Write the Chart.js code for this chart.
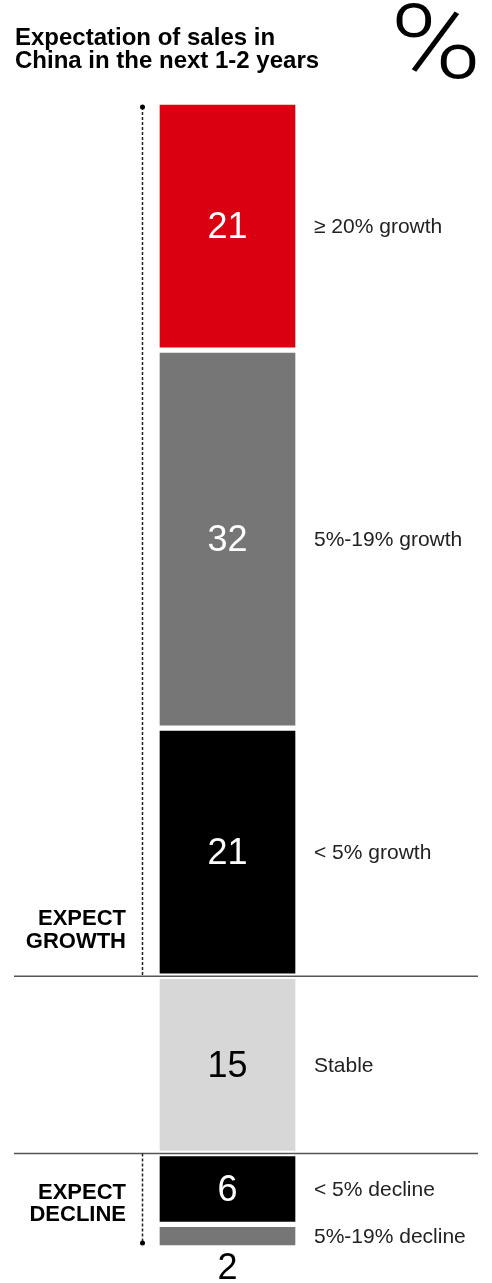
<!DOCTYPE html>
<html>
<head>
<meta charset="utf-8">
<title>Expectation of sales in China</title>
<script src="https://cdn.jsdelivr.net/npm/chart.js@4.4.0/dist/chart.umd.min.js"></script>
<style>
  html, body { margin: 0; padding: 0; background: #fff; }
  #wrap { position: relative; width: 492px; height: 1283px; overflow: hidden; }
  #title { position: absolute; left: 15px; top: 25px; font: bold 24px/23px "Liberation Sans", Arial, sans-serif; color: #000; }
  #unit { position: absolute; left: 390px; top: -9px; font: 300 103px/1 "Roboto", sans-serif; color: #000;
          transform: scaleX(1.2); transform-origin: left top; }
  canvas { position: absolute; left: 0; top: 0; }
</style>
</head>
<body>
<div id="wrap">
  <canvas id="salesChart" width="492" height="1283"></canvas>
  <div id="title">Expectation of sales in<br>China in the next 1-2 years</div>
  <div id="unit">%</div>
</div>
<script>
// Chart data (percent of respondents), top of the bar first
const categories = ['≥ 20% growth', '5%-19% growth', '< 5% growth', 'Stable', '< 5% decline', '5%-19% decline'];
const values = [21, 32, 21, 15, 6, 2];
const barColors = ['#db0011', '#767676', '#000000', '#d7d7d7', '#000000', '#767676'];
const valueColors = ['#ffffff', '#ffffff', '#ffffff', '#000000', '#ffffff', '#000000'];

// Groups shown on the left: first and last category index
const groupNames = [['EXPECT', 'GROWTH'], ['EXPECT', 'DECLINE']];
const groupFirst = [0, 4];
const groupLast = [2, 5];

const total = values.reduce((a, b) => a + b, 0);

const labelFont = '21px "Liberation Sans", Arial, sans-serif';
const groupFont = 'bold 22px "Liberation Sans", Arial, sans-serif';
const numberFont = '36px "Liberation Sans", Arial, sans-serif';

// Draws numbers, side labels, separators and group brackets
const annotate = {
    id: 'annotate',
    afterDatasetsDraw(chart) {
        const ctx = chart.ctx;
        const bars = values.map((v, i) => chart.getDatasetMeta(i).data[0]);
        const top = i => Math.min(bars[i].y, bars[i].base);
        const bottom = i => Math.max(bars[i].y, bars[i].base);
        const mid = i => (bars[i].y + bars[i].base) / 2;
        const barX = bars[0].x;

        ctx.save();

        // values inside the segments (the last is too thin, so below it)
        ctx.font = numberFont;
        ctx.textAlign = 'center';
        ctx.textBaseline = 'middle';
        values.forEach((v, i) => {
            ctx.fillStyle = valueColors[i];
            const y = i === values.length - 1 ? bottom(i) + 21 : mid(i) + 2;
            ctx.fillText(String(v), barX, y);
        });

        // category labels to the right
        ctx.font = labelFont;
        ctx.textAlign = 'left';
        ctx.fillStyle = '#222';
        categories.forEach((c, i) => {
            ctx.fillText(c, 314, mid(i) + 1);
        });

        // separators between growth / stable / decline
        const sep1 = bottom(groupLast[0]);
        const sep2 = top(groupFirst[1]);
        ctx.strokeStyle = '#555';
        ctx.lineWidth = 1.5;
        [sep1, sep2].forEach(y => {
            ctx.beginPath();
            ctx.moveTo(14, y);
            ctx.lineTo(478, y);
            ctx.stroke();
        });

        // dashed brackets
        const bx = 142.5;
        const gTop = top(groupFirst[0]) + 5;
        const dBottom = bottom(groupLast[1]) - 5;
        ctx.strokeStyle = '#222';
        ctx.lineWidth = 1.5;
        ctx.setLineDash([3, 2]);
        ctx.beginPath();
        ctx.moveTo(bx, gTop);
        ctx.lineTo(bx, sep1);
        ctx.moveTo(bx, sep2);
        ctx.lineTo(bx, dBottom);
        ctx.stroke();
        ctx.setLineDash([]);
        ctx.fillStyle = '#000';
        [gTop, dBottom].forEach(y => {
            ctx.beginPath();
            ctx.arc(bx, y, 2.5, 0, Math.PI * 2);
            ctx.fill();
        });

        // group names
        ctx.font = groupFont;
        ctx.textAlign = 'right';
        ctx.textBaseline = 'alphabetic';
        groupNames[0].forEach((t, k) => {
            ctx.fillText(t, 126, sep1 - 51 + k * 23);
        });
        groupNames[1].forEach((t, k) => {
            ctx.fillText(t, 126, mid(groupFirst[1]) + 10 + k * 22);
        });

        ctx.restore();
    }
};

const datasets = values.map((v, i) => ({
    label: categories[i],
    data: [v],
    backgroundColor: barColors[i],
    borderColor: '#ffffff',
    borderWidth: 3,
    borderSkipped: false,
    barPercentage: 1,
    categoryPercentage: 1
}));

new Chart(document.getElementById('salesChart'), {
    type: 'bar',
    data: { labels: [''], datasets: datasets },
    options: {
        responsive: false,
        animation: false,
        layout: { padding: { top: 102, bottom: 35, left: 157, right: 194 } },
        plugins: { legend: { display: false }, tooltip: { enabled: false } },
        scales: {
            x: { stacked: true, display: false },
            y: { stacked: true, display: false, reverse: true, min: 0, max: total }
        }
    },
    plugins: [annotate]
});
</script>
</body>
</html>
